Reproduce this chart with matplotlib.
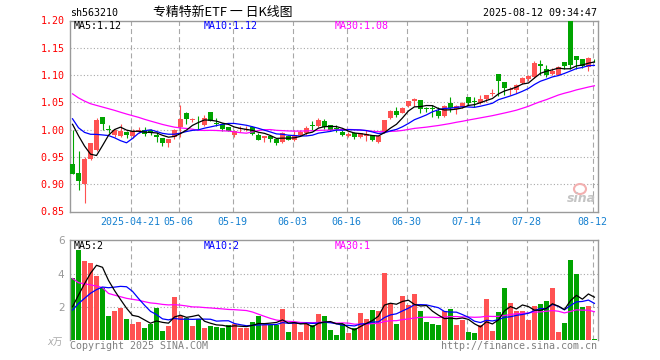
import numpy as np
import matplotlib
matplotlib.use('Agg')
import matplotlib.pyplot as plt
from matplotlib.patches import Ellipse

# daily K-line of sh563210, 2025-04-07 .. 2025-08-12 (88 sessions)
opens = [0.937, 0.921, 0.900, 0.946, 0.963, 1.023, 1.001, 0.990, 0.989, 0.996,
         0.989, 0.997, 1.000, 0.999, 0.990, 0.985, 0.976, 0.987, 1.004, 1.030,
         1.018, 1.011, 1.009, 1.032, 1.013, 1.011, 1.004, 0.991, 1.001, 0.999,
         1.004, 0.991, 0.984, 0.989, 0.982, 0.978, 0.989, 0.981, 0.990, 0.993,
         1.008, 1.007, 1.016, 1.008, 1.003, 0.996, 0.988, 0.993, 0.987, 0.988,
         0.990, 0.978, 0.996, 1.021, 1.035, 1.030, 1.043, 1.053, 1.055, 1.039,
         1.040, 1.034, 1.025, 1.049, 1.037, 1.042, 1.059, 1.052, 1.049, 1.057,
         1.065, 1.102, 1.087, 1.072, 1.072, 1.085, 1.092, 1.097, 1.121, 1.112,
         1.102, 1.101, 1.124, 1.200, 1.135, 1.129, 1.114, 1.128]
highs = [1.000, 0.961, 0.950, 0.976, 1.021, 1.024, 1.008, 1.002, 1.010, 0.997,
         1.002, 1.005, 1.005, 1.002, 0.996, 0.985, 0.982, 1.001, 1.045, 1.032,
         1.022, 1.025, 1.026, 1.033, 1.021, 1.012, 1.004, 1.000, 1.007, 1.007,
         1.007, 0.994, 0.988, 0.989, 0.982, 0.995, 0.991, 0.997, 1.000, 1.007,
         1.016, 1.021, 1.020, 1.009, 1.008, 1.000, 0.995, 0.995, 0.994, 1.000,
         0.990, 0.988, 1.018, 1.036, 1.042, 1.041, 1.053, 1.058, 1.055, 1.042,
         1.045, 1.041, 1.045, 1.060, 1.045, 1.051, 1.059, 1.060, 1.063, 1.063,
         1.074, 1.102, 1.087, 1.079, 1.084, 1.097, 1.101, 1.125, 1.127, 1.119,
         1.113, 1.117, 1.124, 1.200, 1.135, 1.129, 1.134, 1.129]
lows = [0.918, 0.890, 0.866, 0.944, 0.961, 0.999, 0.993, 0.987, 0.986, 0.985,
        0.985, 0.993, 0.988, 0.990, 0.978, 0.970, 0.969, 0.983, 0.987, 1.010,
        1.014, 1.002, 1.006, 1.015, 1.006, 0.998, 0.997, 0.986, 0.995, 0.998,
        0.990, 0.981, 0.977, 0.977, 0.971, 0.976, 0.981, 0.979, 0.988, 0.990,
        0.999, 1.005, 1.002, 0.997, 0.995, 0.988, 0.986, 0.983, 0.984, 0.980,
        0.979, 0.976, 0.994, 1.019, 1.024, 1.030, 1.042, 1.043, 1.030, 1.032,
        1.024, 1.021, 1.023, 1.033, 1.028, 1.040, 1.045, 1.042, 1.047, 1.051,
        1.061, 1.061, 1.064, 1.063, 1.068, 1.084, 1.089, 1.095, 1.100, 1.097,
        1.100, 1.100, 1.112, 1.112, 1.112, 1.113, 1.107, 1.124]
closes = [0.919, 0.905, 0.946, 0.975, 1.018, 1.010, 0.999, 0.999, 0.997, 0.991,
          0.998, 1.000, 0.992, 0.993, 0.987, 0.976, 0.983, 0.999, 1.019, 1.019,
          1.019, 1.010, 1.022, 1.016, 1.011, 1.001, 0.998, 0.998, 1.003, 1.002,
          0.992, 0.981, 0.988, 0.983, 0.976, 0.994, 0.981, 0.991, 0.996, 1.003,
          1.006, 1.018, 1.004, 0.999, 1.001, 0.990, 0.992, 0.987, 0.994, 0.992,
          0.981, 0.988, 1.018, 1.035, 1.027, 1.039, 1.052, 1.056, 1.037, 1.037,
          1.038, 1.025, 1.043, 1.039, 1.043, 1.049, 1.048, 1.050, 1.057, 1.063,
          1.067, 1.090, 1.077, 1.074, 1.082, 1.095, 1.099, 1.123, 1.117, 1.101,
          1.108, 1.115, 1.116, 1.118, 1.127, 1.116, 1.132, 1.127]
# volume in units of 10k (x万)
volumes = [3.76, 5.42, 4.78, 4.66, 3.88, 3.16, 1.48, 1.76, 1.96, 1.28,
           1.00, 1.12, 0.76, 0.96, 1.96, 0.58, 0.88, 2.62, 1.48, 1.32,
           0.88, 1.28, 0.76, 0.88, 0.82, 0.76, 0.92, 0.96, 0.76, 0.72,
           1.12, 1.48, 0.92, 0.92, 0.92, 1.88, 0.52, 1.08, 0.52, 1.00,
           0.92, 1.60, 1.46, 0.64, 0.32, 0.96, 0.46, 0.72, 1.66, 1.28,
           1.82, 1.76, 4.04, 2.22, 0.98, 2.66, 2.12, 2.78, 1.76, 1.10,
           0.98, 0.92, 1.76, 1.88, 0.92, 1.22, 0.50, 0.44, 0.92, 2.48,
           0.56, 1.70, 3.14, 2.24, 1.76, 1.76, 1.22, 2.06, 2.18, 2.36,
           3.14, 0.50, 1.04, 4.82, 3.98, 2.00, 2.06, 0.08]

# 29 sessions before the window, only used to seed the moving averages
pre_closes = [1.13, 1.12, 1.12, 1.11, 1.10, 1.09, 1.09, 1.10, 1.09, 1.09,
              1.09, 1.10, 1.09, 1.08, 1.07, 1.06, 1.07, 1.06, 1.05, 1.06,
              1.07, 1.03, 1.01, 1.02, 1.02, 1.01, 1.04, 1.05, 1.03]
pre_volumes = [13.0, 6.8, 6.5, 6.2, 5.8, 12.0, 4.8, 4.8, 4.2, 2.8,
               2.8, 3.3, 3.2, 3.0, 2.2, 1.8, 2.2, 2.4, 2.7, 2.6,
               1.5, 1.7, 1.6, 1.7, 1.6, 1.9, 1.4, 1.5, 1.5]

date_pos = [10, 18, 27, 37, 46, 56, 66, 76, 87]
date_labels = ['2025-04-21', '05-06', '05-19', '06-03', '06-16',
               '06-30', '07-14', '07-28', '08-12']
price_ticks = [0.85, 0.90, 0.95, 1.00, 1.05, 1.10, 1.15, 1.20]
vol_ticks = [2, 4, 6]

RED = '#ff5252'
GREEN = '#00a400'
GRID = '#a8a8a8'
FRAME = '#9a9a9a'
MONO = 'DejaVu Sans Mono'


def moving_avg(pre, vals, n):
    allv = np.array(pre + vals, dtype=float)
    out = np.convolve(allv, np.ones(n) / n, mode='valid')
    return out[-len(vals):]


x = np.arange(len(closes))
o = np.array(opens)
c = np.array(closes)
up = c >= o
colors = np.where(up, RED, GREEN)

W, H = 660, 360
fig = plt.figure(figsize=(W / 100, H / 100), dpi=100)
fig.patch.set_facecolor('white')


def fx(px):
    return px / W


def fy(py):
    return 1 - py / H


left, right = 70, 597.7
ax1 = fig.add_axes([fx(left), fy(211.5), (right - left) / W, (211.5 - 20.5) / H])
ax2 = fig.add_axes([fx(left), fy(340.3), (right - left) / W, 100 / H])

for ax in (ax1, ax2):
    ax.set_xlim(-0.42, 87.55)
    for s in ax.spines.values():
        s.set_color(FRAME)
        s.set_linewidth(1.0)
    for p in date_pos:
        ax.axvline(p - 0.3, color=GRID, lw=0.8, ls=(0, (4.5, 2.8)), zorder=0)
ax2.spines['bottom'].set_visible(False)

# --- price panel ---
ax1.set_ylim(0.85, 1.20)
for t in price_ticks[1:-1]:
    ax1.axhline(t, color=GRID, lw=0.8, ls=(0, (1, 2)), zorder=0)

ax1.vlines(x, lows, highs, colors=colors, lw=0.8, zorder=2)
body_lo = np.minimum(o, c)
body_h = np.maximum(np.abs(c - o), 0.0012)
ax1.bar(x, body_h, bottom=body_lo, width=0.75, color=colors, linewidth=0, zorder=3)

ma5 = moving_avg(pre_closes, closes, 5)
ma10 = moving_avg(pre_closes, closes, 10)
ma30 = moving_avg(pre_closes, closes, 30)
ax1.plot(x, ma30, color='#ff00ff', lw=0.9, zorder=4)
ax1.plot(x, ma10, color='#0000ff', lw=0.9, zorder=4)
ax1.plot(x, ma5, color='black', lw=0.9, zorder=4)

ax1.set_yticks(price_ticks)
ax1.set_yticklabels(['%.2f' % t for t in price_ticks], color='#ff0000',
                    family=MONO, fontsize=7.2)
ax1.set_xticks([p - 0.3 for p in date_pos])
ax1.set_xticklabels(date_labels, color='#1580d0', family=MONO, fontsize=7.2)
ax1.tick_params(length=0, pad=4)

# --- volume panel ---
ax2.set_ylim(0, 6)
for t in vol_ticks[:-1]:
    ax2.axhline(t, color=GRID, lw=0.8, ls=(0, (1, 2)), zorder=0)
ax2.bar(x, volumes, width=0.8, color=colors, linewidth=0, zorder=2)
vma5 = moving_avg(pre_volumes, volumes, 5)
vma10 = moving_avg(pre_volumes, volumes, 10)
vma30 = moving_avg(pre_volumes, volumes, 30)
ax2.plot(x, vma30, color='#ff00ff', lw=0.9, zorder=4)
ax2.plot(x, vma10, color='#0000ff', lw=0.9, zorder=4)
ax2.plot(x, vma5, color='black', lw=0.9, zorder=4)
ax2.set_yticks(vol_ticks)
ax2.set_yticklabels([str(t) for t in vol_ticks], color='#999999', fontsize=7.5)
ax2.set_xticks([])
ax2.tick_params(length=0, pad=4)

# --- header and labels ---
fig.text(fx(70), fy(12.5), 'sh563210', family=MONO, fontsize=7.2, va='center')
fig.text(fx(223), fy(12.5), '专精特新ETF 一 日K线图', ha='center', va='center',
         family=['Noto Sans CJK SC', 'DejaVu Sans'], fontsize=9.3)
fig.text(fx(597), fy(12.5), '2025-08-12 09:34:47', ha='right', va='center',
         family=MONO, fontsize=7.2)

fig.text(fx(74), fy(26), 'MA5:1.12', family=MONO, fontsize=7.2, va='center', color='black')
fig.text(fx(204), fy(26), 'MA10:1.12', family=MONO, fontsize=7.2, va='center', color='#0000ff')
fig.text(fx(335), fy(26), 'MA30:1.08', family=MONO, fontsize=7.2, va='center', color='#ff00ff')

fig.text(fx(74), fy(246), 'MA5:2', family=MONO, fontsize=7.2, va='center', color='black')
fig.text(fx(204), fy(246), 'MA10:2', family=MONO, fontsize=7.2, va='center', color='#0000ff')
fig.text(fx(335), fy(246), 'MA30:1', family=MONO, fontsize=7.2, va='center', color='#ff00ff')

fig.text(fx(63), fy(342), 'x万', ha='right', va='center', color='#aaaaaa', style='italic',
         family=['DejaVu Sans', 'Noto Sans CJK SC'], fontsize=7)
fig.text(fx(70), fy(346), 'Copyright 2025 SINA.COM', family=MONO, fontsize=7.2,
         va='center', color='#808080')
fig.text(fx(597), fy(346), 'http://finance.sina.com.cn', family=MONO, fontsize=7.2,
         ha='right', va='center', color='#808080')

# sina watermark
fig.add_artist(Ellipse((fx(580), fy(189)), 12 / W, 10 / H, transform=fig.transFigure,
                       facecolor='none', edgecolor='#f3b0b0', lw=1.5))
fig.text(fx(581), fy(199), 'sina', ha='center', va='center', color='#c4c4c4',
         style='italic', weight='bold', fontsize=9)

fig.savefig('out.png', dpi=100)
